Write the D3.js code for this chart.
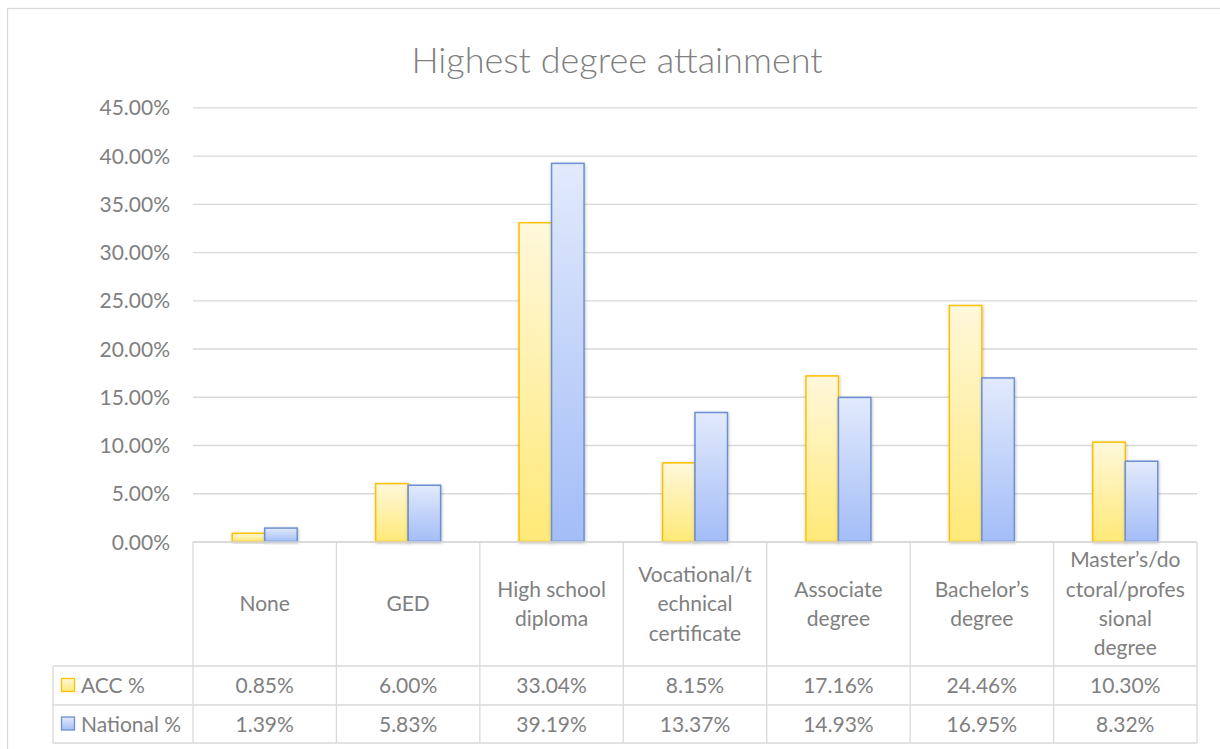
<!DOCTYPE html>
<html>
<head>
<meta charset="utf-8">
<script src="https://cdn.jsdelivr.net/npm/d3@7"></script>
<style>
  html, body { margin: 0; padding: 0; background: #ffffff; }
  svg { display: block; }
  text { font-family: Lato, "Open Sans", sans-serif; }
</style>
</head>
<body>
<svg id="chart" width="1220" height="749"></svg>
<script>
// ---- Data ----
const categories = ["None", "GED", "High school diploma", "Vocational/technical certificate",
  "Associate degree", "Bachelor’s degree", "Master’s/doctoral/professional degree"];
const categoryLines = [["None"], ["GED"], ["High school", "diploma"],
  ["Vocational/t", "echnical", "certificate"], ["Associate", "degree"],
  ["Bachelor’s", "degree"], ["Master’s/do", "ctoral/profes", "sional", "degree"]];
const seriesNames = ["ACC %", "National %"];
const accValues = [0.85, 6.00, 33.04, 8.15, 17.16, 24.46, 10.30];
const nationalValues = [1.39, 5.83, 39.19, 13.37, 14.93, 16.95, 8.32];
const yTickValues = [0, 5, 10, 15, 20, 25, 30, 35, 40, 45];
const titleText = "Highest degree attainment";

// ---- Layout ----
const svg = d3.select("#chart");
const W = 1220, H = 749;
const plot = { left: 193, right: 1197, top: 107.3, bottom: 541.5 };
const table = { legendLeft: 53, catBottom: 666, row1Bottom: 705, row2Bottom: 743 };
const textColor = "#808080";
const lineColor = "#d9d9d9";
const fontSize = 21;
const capHalf = fontSize * 0.7165 / 2;
const seriesColors = [
  { stroke: "#ffc000", top: "#fff8db", bottom: "#ffe978" },
  { stroke: "#6d8fd3", top: "#e2eafc", bottom: "#a3bdf7" }
];

svg.append("rect").attr("width", W).attr("height", H).attr("fill", "#fff");

const defs = svg.append("defs");
seriesColors.forEach((c, i) => {
  const g = defs.append("linearGradient").attr("id", "grad" + i)
    .attr("x1", 0).attr("y1", 0).attr("x2", 0).attr("y2", 1);
  g.append("stop").attr("offset", "0%").attr("stop-color", c.top);
  g.append("stop").attr("offset", "100%").attr("stop-color", c.bottom);
});
const f = defs.append("filter").attr("id", "shadow")
  .attr("x", "-30%").attr("y", "-10%").attr("width", "160%").attr("height", "130%");
f.append("feDropShadow").attr("dx", 0.5).attr("dy", 1).attr("stdDeviation", 1.6)
  .attr("flood-color", "#000").attr("flood-opacity", 0.28);

// chart area border
svg.append("rect").attr("x", 7.5).attr("y", 8.5).attr("width", 1240).attr("height", 780)
  .attr("fill", "none").attr("stroke", lineColor).attr("stroke-width", 1.3);

// title
svg.append("text").attr("x", 617).attr("y", 73).attr("text-anchor", "middle")
  .attr("fill", "#808080").attr("font-size", 36).attr("font-weight", 300).text(titleText);

// ---- Scales ----
const y = d3.scaleLinear().domain([0, 45]).range([plot.bottom, plot.top]);
const xCol = d3.scaleBand().domain(categories).range([plot.left, plot.right]).padding(0);
const xGroup = d3.scaleBand().domain(categories).range([plot.left, plot.right])
  .paddingInner(0.547).paddingOuter(0.2735);
const xSeries = d3.scaleBand().domain(seriesNames).range([0, xGroup.bandwidth()]).padding(0);

// ---- Y axis with gridlines ----
const yAxis = d3.axisLeft(y).tickValues(yTickValues)
  .tickFormat(d => d3.format(".2f")(d) + "%")
  .tickSize(-(plot.right - plot.left)).tickPadding(23);
const ya = svg.append("g").attr("transform", `translate(${plot.left},0)`).call(yAxis);
ya.select(".domain").remove();
ya.selectAll(".tick line").attr("stroke", lineColor).attr("stroke-width", 1.3);
ya.selectAll(".tick text").attr("fill", textColor).attr("font-size", fontSize)
  .attr("font-family", "Lato, sans-serif").attr("dy", null).attr("y", capHalf);

// ---- Bars ----
const rows = categories.map((c, i) => ({ cat: c, vals: [accValues[i], nationalValues[i]] }));
const groups = svg.append("g").selectAll("g").data(rows).join("g")
  .attr("transform", d => `translate(${xGroup(d.cat)},0)`);
groups.selectAll("rect").data(d => d.vals.map((v, j) => ({ v, j })))
  .join("rect")
  .attr("x", d => xSeries(seriesNames[d.j]))
  .attr("y", d => y(d.v))
  .attr("width", xSeries.bandwidth())
  .attr("height", d => y(0) - y(d.v))
  .attr("fill", d => `url(#grad${d.j})`)
  .attr("stroke", d => seriesColors[d.j].stroke)
  .attr("stroke-width", 1.5)
  .attr("filter", "url(#shadow)");

// ---- Data table ----
const tg = svg.append("g").attr("stroke", lineColor).attr("stroke-width", 1.3);
tg.append("line").attr("x1", plot.left).attr("x2", plot.right).attr("y1", plot.bottom + 0.5).attr("y2", plot.bottom + 0.5);
[table.catBottom, table.row1Bottom, table.row2Bottom].forEach(yy =>
  tg.append("line").attr("x1", table.legendLeft).attr("x2", plot.right).attr("y1", yy).attr("y2", yy));
tg.append("line").attr("x1", table.legendLeft).attr("x2", table.legendLeft)
  .attr("y1", table.catBottom).attr("y2", table.row2Bottom);
categories.concat([null]).forEach((c, i) => {
  const xx = c === null ? plot.right : xCol(c);
  tg.append("line").attr("x1", xx).attr("x2", xx).attr("y1", plot.bottom + 0.5).attr("y2", table.row2Bottom);
});

// category labels
const lineH = 29.4;
const catMid = (plot.bottom + table.catBottom) / 2;
categories.forEach((c, i) => {
  const lines = categoryLines[i];
  const t = svg.append("text").attr("text-anchor", "middle").attr("fill", textColor)
    .attr("font-size", fontSize);
  const start = catMid - (lines.length - 1) * lineH / 2 + capHalf;
  lines.forEach((ln, k) => {
    t.append("tspan").attr("x", xCol(c) + xCol.bandwidth() / 2).attr("y", start + k * lineH).text(ln);
  });
});

// value rows
const rowMids = [(table.catBottom + table.row1Bottom) / 2, (table.row1Bottom + table.row2Bottom) / 2];
[accValues, nationalValues].forEach((vals, j) => {
  svg.append("g").selectAll("text").data(vals).join("text")
    .attr("x", (d, i) => xCol(categories[i]) + xCol.bandwidth() / 2)
    .attr("y", rowMids[j] + capHalf)
    .attr("text-anchor", "middle").attr("fill", textColor).attr("font-size", fontSize)
    .text(d => d3.format(".2f")(d) + "%");
  // legend key
  svg.append("rect").attr("x", 61.5).attr("y", rowMids[j] - 7).attr("width", 13).attr("height", 13)
    .attr("fill", `url(#grad${j})`).attr("stroke", seriesColors[j].stroke).attr("stroke-width", 1.3);
  svg.append("text").attr("x", 81).attr("y", rowMids[j] + capHalf)
    .attr("fill", textColor).attr("font-size", fontSize).text(seriesNames[j]);
});
</script>
</body>
</html>
